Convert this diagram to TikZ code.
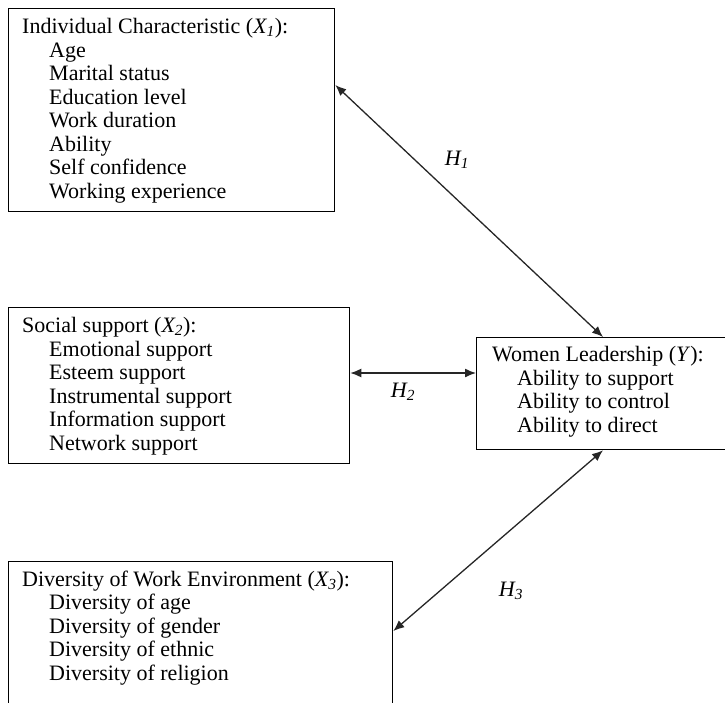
\documentclass[tikz,border=0pt]{standalone}
\usepackage{fontspec}
\setmainfont{Liberation Serif}
\usetikzlibrary{arrows.meta}
\tikzset{
  varbox/.style={draw, line width=1.3pt, anchor=north west, inner sep=0pt},
  vartext/.style={anchor=base west, align=left, inner sep=0pt, font=\fontsize{22}{23.5}\selectfont},
  link/.style={<->, >={Latex[length=11pt,width=9pt]}, line width=1.3pt, draw=black!85},
  hyp/.style={font=\fontsize{22}{24}\selectfont\itshape}
}
\newcommand{\ind}{\hspace*{27pt}}
\begin{document}
\begin{tikzpicture}[x=1pt,y=-1pt]
\useasboundingbox (0,0) rectangle (725,702);
\clip (0,0) rectangle (725,702);

\node[varbox, minimum width=326pt, minimum height=203pt] (x1) at (8,8) {};
\node[varbox, minimum width=341pt, minimum height=156pt] (x2) at (8,307) {};
\node[varbox, minimum width=384pt, minimum height=160pt] (x3) at (8,561) {};
\node[varbox, minimum width=270pt, minimum height=112pt] (y) at (476,337) {};

% text blocks, placed by the baseline of their last line
\node[vartext] (t1) at (22,198) {Individual Characteristic (\textit{X\textsubscript{1}}):\\
  \ind Age\\ \ind Marital status\\ \ind Education level\\ \ind Work duration\\
  \ind Ability\\ \ind Self confidence\\ \ind Working experience};
\node[vartext] (t2) at (22,450) {Social support (\textit{X\textsubscript{2}}):\\
  \ind Emotional support\\ \ind Esteem support\\ \ind Instrumental support\\
  \ind Information support\\ \ind Network support};
\node[vartext] (t3) at (22,680) {Diversity of Work Environment (\textit{X\textsubscript{3}}):\\
  \ind Diversity of age\\ \ind Diversity of gender\\ \ind Diversity of ethnic\\
  \ind Diversity of religion};
\node[vartext] (ty) at (492,432) {Women Leadership (\textit{Y}):\\
  \hspace*{25pt}Ability to support\\ \hspace*{25pt}Ability to control\\
  \hspace*{25pt}Ability to direct};

% hypotheses
\draw[link] (x1.east |- 0,85) -- (y.north -| 603,0);
\draw[link] (x2.east |- 0,373) -- (y.west |- 0,373);
\draw[link] (x3.east |- 0,631) -- (y.south -| 603,0);

\node[hyp] (h1) at (457,160) {H\textsubscript{1}};
\node[hyp] (h2) at (403,392) {H\textsubscript{2}};
\node[hyp] (h3) at (511,591) {H\textsubscript{3}};
\end{tikzpicture}
\end{document}
